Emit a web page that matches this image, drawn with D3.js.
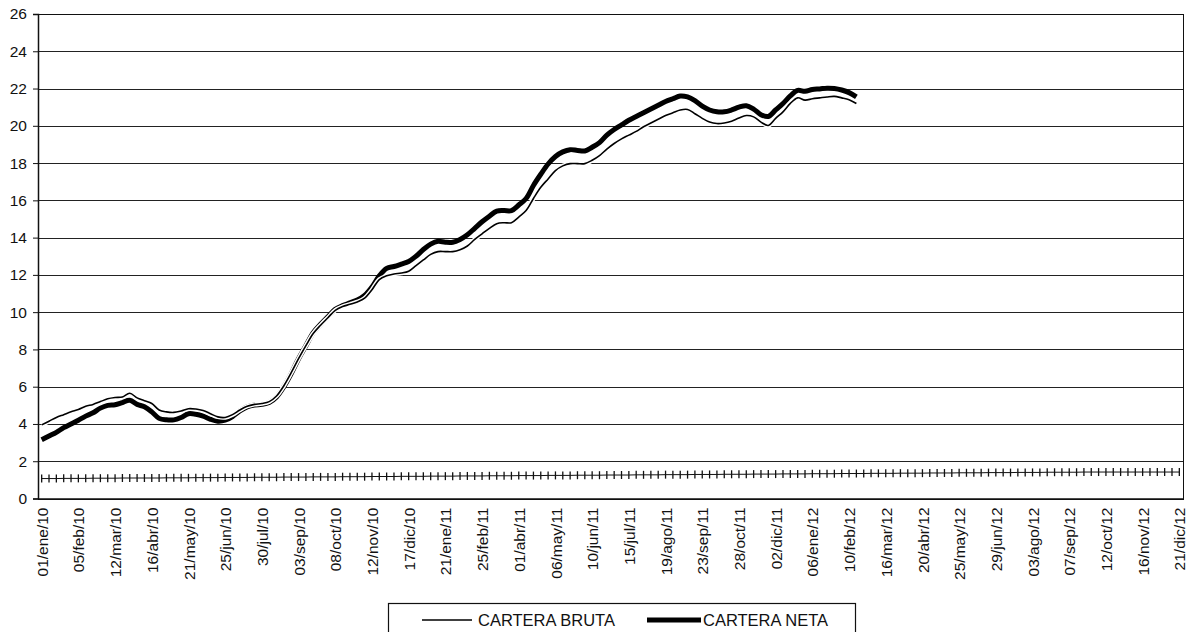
<!DOCTYPE html>
<html>
<head>
<meta charset="utf-8">
<script src="https://cdn.jsdelivr.net/npm/d3@7"></script>
<style>
  html, body { margin: 0; padding: 0; background: #fff; }
  svg { display: block; font-family: "Liberation Sans", Arial, sans-serif; }
</style>
</head>
<body>
<svg id="chart" width="1188" height="632"></svg>
<script>
// ---- DATA ----
const startDate = "2010-01-01";
const weekCount = 156;
const tickLabels = ["01/ene/10","05/feb/10","12/mar/10","16/abr/10","21/may/10","25/jun/10","30/jul/10",
  "03/sep/10","08/oct/10","12/nov/10","17/dic/10","21/ene/11","25/feb/11","01/abr/11","06/may/11",
  "10/jun/11","15/jul/11","19/ago/11","23/sep/11","28/oct/11","02/dic/11","06/ene/12","10/feb/12",
  "16/mar/12","20/abr/12","25/may/12","29/jun/12","03/ago/12","07/sep/12","12/oct/12","16/nov/12","21/dic/12"];
const yTicks = [0,2,4,6,8,10,12,14,16,18,20,22,24,26];

const carteraBruta = [3.95,4.15,4.35,4.5,4.65,4.78,4.95,5.05,5.2,5.35,5.42,5.45,5.65,5.4,5.25,5.1,4.75,4.65,4.62,4.7,
  4.82,4.8,4.72,4.55,4.38,4.35,4.5,4.75,4.95,5.05,5.1,5.2,5.5,6.05,6.75,7.5,8.2,8.85,9.3,9.7,
  10.1,10.3,10.42,10.55,10.75,11.2,11.75,11.95,12.05,12.1,12.2,12.5,12.8,13.1,13.25,13.25,13.25,13.35,13.55,13.9,
  14.2,14.5,14.75,14.8,14.8,15.1,15.45,16.1,16.7,17.15,17.6,17.85,17.97,17.97,17.97,18.15,18.4,18.75,19.05,19.3,
  19.5,19.7,19.95,20.15,20.35,20.55,20.7,20.85,20.88,20.65,20.4,20.2,20.12,20.15,20.25,20.42,20.55,20.48,20.2,20.02,
  20.4,20.75,21.2,21.5,21.38,21.45,21.5,21.55,21.58,21.5,21.4,21.2];

const carteraNeta = [3.15,3.35,3.55,3.8,4.0,4.2,4.42,4.6,4.85,5.0,5.03,5.15,5.27,5.05,4.92,4.65,4.3,4.22,4.22,4.35,
  4.55,4.52,4.42,4.25,4.15,4.2,4.4,4.7,4.92,5.02,5.05,5.15,5.45,6.0,6.7,7.5,8.2,8.9,9.35,9.75,
  10.15,10.35,10.5,10.65,10.9,11.35,11.95,12.35,12.45,12.58,12.72,13.0,13.36,13.65,13.8,13.75,13.75,13.9,14.15,14.5,
  14.85,15.15,15.42,15.45,15.45,15.75,16.1,16.8,17.4,17.95,18.35,18.6,18.72,18.68,18.65,18.85,19.1,19.5,19.8,20.05,
  20.3,20.5,20.7,20.9,21.1,21.3,21.45,21.6,21.55,21.35,21.05,20.85,20.75,20.75,20.85,21.0,21.08,20.9,20.6,20.5,
  20.85,21.2,21.6,21.9,21.85,21.95,21.98,22.02,22.0,21.92,21.78,21.55];

const marcador = [1.07,1.07,1.07,1.08,1.08,1.08,1.08,1.09,1.09,1.09,1.09,1.1,1.1,1.1,1.1,1.1,1.1,1.11,1.11,1.11,
  1.11,1.12,1.12,1.12,1.12,1.13,1.13,1.13,1.13,1.14,1.14,1.14,1.14,1.15,1.15,1.15,1.15,1.16,1.16,1.16,
  1.16,1.17,1.17,1.17,1.17,1.18,1.18,1.18,1.18,1.19,1.19,1.19,1.19,1.2,1.2,1.2,1.2,1.21,1.21,1.21,
  1.21,1.22,1.22,1.22,1.22,1.23,1.23,1.23,1.23,1.24,1.24,1.24,1.24,1.25,1.25,1.25,1.25,1.26,1.26,1.26,
  1.26,1.27,1.27,1.27,1.27,1.28,1.28,1.28,1.28,1.29,1.29,1.29,1.29,1.3,1.3,1.3,1.3,1.31,1.31,1.31,
  1.31,1.32,1.32,1.32,1.32,1.33,1.33,1.33,1.33,1.34,1.34,1.34,1.34,1.35,1.35,1.35,1.35,1.36,1.36,1.36,
  1.36,1.37,1.37,1.37,1.37,1.38,1.38,1.38,1.38,1.39,1.39,1.39,1.39,1.4,1.4,1.4,1.4,1.41,1.41,1.41,
  1.41,1.41,1.42,1.42,1.42,1.42,1.42,1.42,1.42,1.42,1.42,1.42,1.42,1.42,1.42,1.42];

// categories: weekly dates
const parseDate = d3.timeParse("%Y-%m-%d");
const categories = d3.range(weekCount).map(i => d3.timeDay.offset(parseDate(startDate), 7 * i));

// ---- LAYOUT ----
const svg = d3.select("#chart");
const plotL = 38, plotR = 1183, plotT = 14, plotB = 498.5;

const x = d3.scalePoint().domain(d3.range(weekCount)).range([plotL, plotR]).padding(0.5);
const y = d3.scaleLinear().domain([0, 26]).range([plotB, plotT]);

svg.append("rect").attr("width", 1188).attr("height", 632).attr("fill", "#fff");

// gridlines
svg.append("g").selectAll("line").data(yTicks).join("line")
  .attr("x1", plotL).attr("x2", plotR)
  .attr("y1", d => Math.round(y(d)) + 0.5).attr("y2", d => Math.round(y(d)) + 0.5)
  .attr("stroke", "#222").attr("stroke-width", 1);

// plot border
svg.append("rect").attr("x", plotL + 0.5).attr("y", Math.round(plotT) + 0.5)
  .attr("width", plotR - plotL).attr("height", Math.round(plotB) - Math.round(plotT))
  .attr("fill", "none").attr("stroke", "#111").attr("stroke-width", 1);

// y axis
const yAxis = d3.axisLeft(y).tickValues(yTicks).tickSize(5).tickPadding(6).tickFormat(d3.format("d"));
const gy = svg.append("g").attr("transform", `translate(${plotL},0)`).call(yAxis);
gy.select(".domain").attr("stroke", "#111").attr("stroke-width", 1.5);
gy.selectAll(".tick line").attr("stroke", "#111");
gy.selectAll(".tick text").attr("font-size", 15.5).attr("fill", "#111")
  .attr("font-family", "'Liberation Sans', Arial, sans-serif");

// x axis with labels every 5th category
const xAxis = d3.axisBottom(x)
  .tickValues(d3.range(0, weekCount, 5))
  .tickSize(0).tickPadding(0)
  .tickFormat(d => tickLabels[d / 5]);
const gx = svg.append("g").attr("transform", `translate(0,${plotB})`).call(xAxis);
gx.select(".domain").attr("stroke", "#111").attr("stroke-width", 1.5);
gx.selectAll(".tick text")
  .attr("font-size", 15.5).attr("fill", "#111")
  .attr("font-family", "'Liberation Sans', Arial, sans-serif")
  .attr("text-anchor", "end")
  .attr("transform", "rotate(-90)")
  .attr("x", -9).attr("y", 0).attr("dy", "0.36em");

// marker series (+ crosses)
const markLine = d3.line().x((d, i) => x(i)).y(d => y(d));
svg.append("path").datum(marcador).attr("d", markLine)
  .attr("fill", "none").attr("stroke", "#111").attr("stroke-width", 1);
svg.append("g").selectAll("line").data(marcador).join("line")
  .attr("x1", (d, i) => x(i)).attr("x2", (d, i) => x(i))
  .attr("y1", d => y(d) - 4).attr("y2", d => y(d) + 4)
  .attr("stroke", "#111").attr("stroke-width", 1.3);

// main series
const line = d3.line().x((d, i) => x(i)).y(d => y(d)).curve(d3.curveCatmullRom.alpha(0.5));
svg.append("path").datum(carteraNeta).attr("d", line)
  .attr("fill", "none").attr("stroke", "#000").attr("stroke-width", 5).attr("stroke-linejoin", "round");
svg.append("path").datum(carteraBruta).attr("d", line)
  .attr("fill", "none").attr("stroke", "#fff").attr("stroke-width", 4.5).attr("stroke-linejoin", "round");
svg.append("path").datum(carteraBruta).attr("d", line)
  .attr("fill", "none").attr("stroke", "#000").attr("stroke-width", 1.6).attr("stroke-linejoin", "round");

// legend
const lg = svg.append("g");
lg.append("rect").attr("x", 388.5).attr("y", 603.5).attr("width", 467).attr("height", 40)
  .attr("fill", "#fff").attr("stroke", "#111").attr("stroke-width", 1.2);
lg.append("line").attr("x1", 422).attr("x2", 472).attr("y1", 620).attr("y2", 620)
  .attr("stroke", "#000").attr("stroke-width", 1.6);
lg.append("text").attr("x", 478).attr("y", 626).attr("font-size", 16.5).attr("fill", "#111").text("CARTERA BRUTA");
lg.append("line").attr("x1", 647).attr("x2", 701).attr("y1", 620).attr("y2", 620)
  .attr("stroke", "#000").attr("stroke-width", 5);
lg.append("text").attr("x", 703).attr("y", 626).attr("font-size", 16.5).attr("fill", "#111").text("CARTERA NETA");
</script>
</body>
</html>
